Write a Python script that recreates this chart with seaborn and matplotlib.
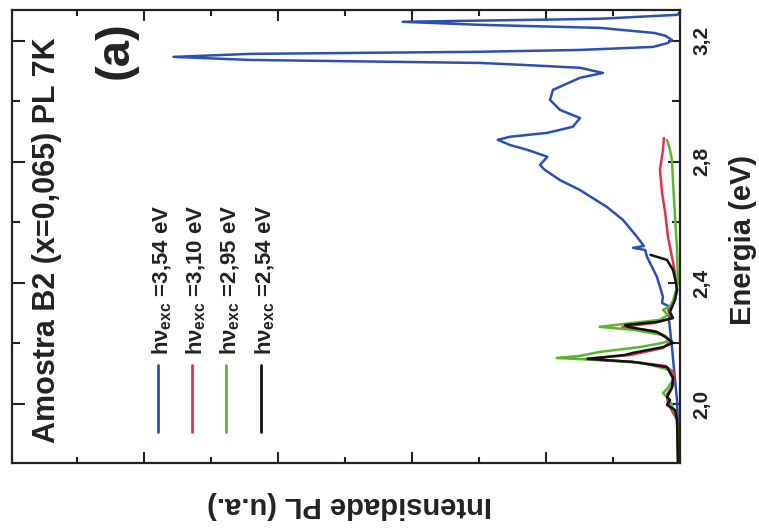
import numpy as np
import pandas as pd
import matplotlib
matplotlib.use("Agg")
import matplotlib.pyplot as plt
import seaborn as sns
from matplotlib.ticker import MultipleLocator, FixedLocator
from matplotlib.lines import Line2D

# Excitation energies (legend) and colours
excitacoes = ["3,54", "3,10", "2,95", "2,54"]
cores = ["#2b4fb4", "#e2334d", "#5cb531", "#111111"]

# PL spectra: energy (eV) and intensity (arb. units)
E_354 = [1.810, 1.914, 2.013, 2.079, 2.188, 2.278, 2.321, 2.334, 2.354, 2.420,
         2.486, 2.509, 2.516, 2.522, 2.552, 2.608, 2.651, 2.707, 2.740, 2.774,
         2.790, 2.807, 2.817, 2.840, 2.856, 2.873, 2.883, 2.896, 2.916, 2.945,
         2.972, 3.005, 3.038, 3.078, 3.094, 3.111, 3.121, 3.127, 3.137, 3.147,
         3.157, 3.164, 3.170, 3.180, 3.193, 3.203, 3.217, 3.226, 3.243, 3.253,
         3.263, 3.267, 3.273, 3.286, 3.296]
I_354 = [0.010, 0.015, 0.022, 0.037, 0.060, 0.082, 0.075, 0.134, 0.127, 0.172,
         0.246, 0.260, 0.350, 0.270, 0.320, 0.425, 0.545, 0.746, 0.896, 1.010,
         1.045, 1.010, 0.990, 1.140, 1.270, 1.360, 1.270, 0.990, 0.800, 0.746,
         0.896, 0.970, 0.948, 0.746, 0.575, 0.746, 1.190, 1.490, 3.210, 3.780,
         3.210, 1.490, 0.746, 0.200, 0.090, 0.060, 0.110, 0.190, 0.600, 1.490,
         2.070, 1.490, 0.600, 0.020, 0.000]

E_310 = [1.810, 1.947, 2.003, 2.030, 2.063, 2.106, 2.126, 2.139, 2.149, 2.162,
         2.185, 2.205, 2.225, 2.241, 2.255, 2.268, 2.284, 2.311, 2.344, 2.377,
         2.433, 2.486, 2.552, 2.631, 2.698, 2.774, 2.840, 2.879]
I_310 = [0.015, 0.022, 0.090, 0.100, 0.050, 0.050, 0.110, 0.350, 0.710, 0.370,
         0.127, 0.075, 0.110, 0.190, 0.430, 0.190, 0.060, 0.090, 0.045, 0.022,
         0.037, 0.060, 0.090, 0.110, 0.134, 0.150, 0.127, 0.120]

E_295 = [1.810, 1.947, 1.997, 2.020, 2.036, 2.053, 2.079, 2.112, 2.136, 2.145,
         2.152, 2.159, 2.172, 2.188, 2.202, 2.212, 2.228, 2.245, 2.255, 2.268,
         2.278, 2.294, 2.311, 2.327, 2.400, 2.509, 2.618, 2.731, 2.807, 2.840,
         2.873]
I_295 = [0.015, 0.022, 0.060, 0.090, 0.127, 0.090, 0.052, 0.075, 0.276, 0.600,
         0.920, 0.746, 0.600, 0.300, 0.127, 0.075, 0.127, 0.350, 0.600, 0.350,
         0.150, 0.090, 0.127, 0.060, 0.015, 0.022, 0.037, 0.052, 0.060, 0.075,
         0.097]

E_254 = [1.810, 1.947, 1.980, 1.997, 2.013, 2.023, 2.053, 2.086, 2.122, 2.139,
         2.149, 2.162, 2.169, 2.188, 2.202, 2.218, 2.238, 2.255, 2.261, 2.271,
         2.284, 2.304, 2.344, 2.377, 2.400, 2.443, 2.476, 2.493]
I_254 = [0.015, 0.022, 0.037, 0.097, 0.075, 0.097, 0.060, 0.052, 0.097, 0.350,
         0.690, 0.410, 0.350, 0.127, 0.052, 0.097, 0.172, 0.390, 0.410, 0.172,
         0.052, 0.075, 0.037, 0.022, 0.030, 0.052, 0.097, 0.220]

energias = [E_354, E_310, E_295, E_254]
intensidades = [I_354, I_310, I_295, I_254]

frames = []
for exc, E, I in zip(excitacoes, energias, intensidades):
    frames.append(pd.DataFrame({"energia": E, "intensidade": I, "exc": exc}))
df = pd.concat(frames, ignore_index=True)

sns.set_theme(style="ticks")
plt.rcParams["font.family"] = ["Liberation Sans", "DejaVu Sans"]
plt.rcParams["font.weight"] = "bold"
plt.rcParams["mathtext.fontset"] = "custom"
plt.rcParams["mathtext.rm"] = "Liberation Sans:bold"
plt.rcParams["mathtext.it"] = "Liberation Sans:bold"
plt.rcParams["mathtext.bf"] = "Liberation Sans:bold"

W, H = 759, 530
fig = plt.figure(figsize=(W / 100, H / 100), dpi=100)
ax = fig.add_axes([12 / W, 1 - 463 / H, (680 - 12) / W, (463 - 10) / H])

paleta = dict(zip(excitacoes, cores))
sns.lineplot(data=df, x="intensidade", y="energia", hue="exc", palette=paleta,
             estimator=None, sort=False, orient="y", legend=False,
             linewidth=1.8, ax=ax)

# intensity grows to the left, energy upward (spectrum turned on its side)
ax.set_xlim(4.985, 0.0)
ax.set_ylim(1.805, 3.302)

ax.yaxis.set_major_locator(FixedLocator([2.0, 2.4, 2.8, 3.2]))
ax.yaxis.set_minor_locator(FixedLocator([2.2, 2.6, 3.0]))
ax.xaxis.set_major_locator(MultipleLocator(1.0))
ax.xaxis.set_minor_locator(MultipleLocator(0.5))
ax.set_yticklabels(["2,0", "2,4", "2,8", "3,2"])
ax.set_xticklabels([])

ax.tick_params(axis="both", which="both", direction="in", top=True, bottom=True,
               left=True, right=True, width=1.5, colors="#222222")
ax.tick_params(axis="y", which="major", length=9)
ax.tick_params(axis="y", which="minor", length=6)
ax.tick_params(axis="x", which="major", length=8)
ax.tick_params(axis="x", which="minor", length=4)
ax.tick_params(axis="y", labelleft=False, labelright=True, labelsize=15, pad=9)
for lab in ax.get_yticklabels():
    lab.set_rotation(90)
    lab.set_va("center")
    lab.set_fontweight("bold")
for sp in ax.spines.values():
    sp.set_linewidth(1.6)
    sp.set_color("#222222")
ax.set_xlabel("")
ax.set_ylabel("")

def fx(px):
    return px / W

def fy(py):
    return 1 - py / H

fig.text(fx(743), fy(240), "Energia (eV)", rotation=90, ha="center", va="center",
         fontsize=21, fontweight="bold", color="#222222")
fig.text(fx(350), fy(505), "Intensidade PL (u.a.)", rotation=180, ha="center",
         va="center", fontsize=21, fontweight="bold", color="#222222")
fig.text(fx(47), fy(240), "Amostra B2 (x=0,065) PL 7K", rotation=90, ha="center",
         va="center", fontsize=22, fontweight="bold", color="#222222")
fig.text(fx(116), fy(50), "(a)", rotation=90, ha="center", va="center",
         fontsize=34, fontweight="bold", color="#222222")

# legend drawn upright along the energy direction
leg_x = [158, 192, 226, 261]
for x, exc, c in zip(leg_x, excitacoes, cores):
    fig.add_artist(Line2D([fx(x), fx(x)], [fy(432), fy(365)],
                          transform=fig.transFigure, color=c, lw=2))
    fig.text(fx(x + 4), fy(355), r"h$\nu_{\mathrm{exc}}$ =" + exc + " eV",
             rotation=90, ha="center", va="bottom", fontsize=16,
             fontweight="bold", color="#222222")

fig.savefig("out.png", dpi=100, facecolor="white")
